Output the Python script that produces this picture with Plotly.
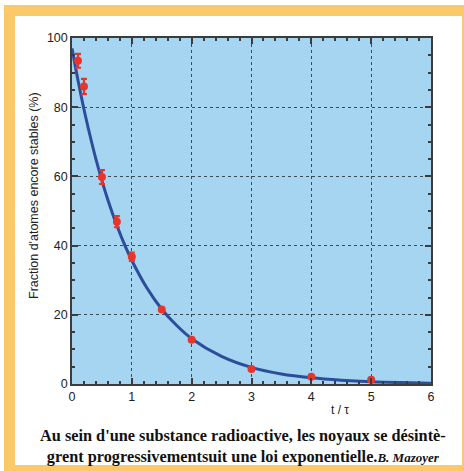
import plotly.graph_objects as go

# --- data ---
t_meas = [0.1, 0.2, 0.5, 0.75, 1.0, 1.5, 2.0, 3.0, 4.0, 5.0]
frac_meas = [93.4, 86.0, 59.8, 46.9, 36.8, 21.5, 12.8, 4.3, 2.1, 1.2]
frac_err = [2.0, 2.2, 2.0, 1.6, 1.2, 0, 0, 0, 0, 0]

t_curve = [0, 0.1, 0.2, 0.3, 0.4, 0.5, 0.6, 0.75, 0.9, 1.0, 1.25, 1.5, 1.75,
           2.0, 2.5, 3.0, 3.5, 4.0, 4.5, 5.0, 5.5, 6.0]
frac_curve = [97, 87.8, 79.4, 71.9, 65.0, 58.8, 53.2, 45.8, 39.4, 35.7, 27.8,
              21.6, 16.9, 13.1, 8.0, 4.8, 2.9, 1.8, 1.1, 0.65, 0.4, 0.24]

x_ticks = [0, 1, 2, 3, 4, 5, 6]
y_ticks = [0, 20, 40, 60, 80, 100]

caption_line1 = "Au sein d'une substance radioactive, les noyaux se désintè-"
caption_line2 = "grent progressivementsuit une loi exponentielle."
credit = "B. Mazoyer"

W, H = 464, 471
L, R, T, B = 72, 431, 38, 384  # plot area in px


def px_x(p):
    return (p - L) / (R - L)


def px_y(p):
    return 1 - (p - T) / (B - T)


fig = go.Figure()
fig.add_trace(go.Scatter(
    x=t_curve, y=frac_curve, mode="lines",
    line=dict(color="#2c4d9c", width=3, shape="spline"),
    hoverinfo="skip", showlegend=False, cliponaxis=True))
fig.add_trace(go.Scatter(
    x=t_meas, y=frac_meas, mode="markers",
    marker=dict(color="#e8352b", size=8),
    error_y=dict(type="data", array=frac_err, color="#e8352b", thickness=2.2, width=3),
    showlegend=False, cliponaxis=False))

shapes = [
    dict(type="rect", xref="paper", yref="paper", layer="below",
         x0=px_x(4), x1=px_x(464), y0=px_y(471), y1=px_y(5),
         fillcolor="#fdc867", line=dict(width=0)),
    dict(type="rect", xref="paper", yref="paper", layer="below",
         x0=px_x(15), x1=px_x(462), y0=px_y(465), y1=px_y(16),
         fillcolor="#ffffff", line=dict(width=0)),
    dict(type="rect", xref="paper", yref="paper", layer="below",
         x0=0, x1=1, y0=0, y1=1,
         fillcolor="#a5d5f1", line=dict(width=0)),
]

axis_common = dict(
    showline=True, linecolor="#3c3c3c", linewidth=1.5, mirror="ticks",
    ticks="inside", ticklen=6, tickwidth=1.5, tickcolor="#3c3c3c",
    showgrid=True, gridcolor="#3a4a55", gridwidth=1, griddash="dot",
    zeroline=False,
    tickfont=dict(family="Liberation Sans, Arial, sans-serif", size=12.5, color="#222222"),
)

fig.update_xaxes(range=[0, 6], tickvals=x_ticks, ticktext=[str(v) for v in x_ticks],
                 minor=dict(dtick=0.2, tick0=0, ticks="inside", ticklen=3,
                            tickcolor="#3c3c3c", showgrid=False),
                 **axis_common)
fig.update_yaxes(range=[0, 100], tickvals=y_ticks, ticktext=[str(v) for v in y_ticks],
                 minor=dict(dtick=5, tick0=0, ticks="inside", ticklen=3,
                            tickcolor="#3c3c3c", showgrid=False),
                 **axis_common)

serif = "Liberation Serif, Times New Roman, serif"
annotations = [
    dict(text="Fraction d'atomes encore stables (%)", textangle=-90,
         xref="paper", yref="paper", x=px_x(34), y=px_y(196),
         xanchor="center", yanchor="middle", showarrow=False,
         font=dict(family="Liberation Sans, Arial, sans-serif", size=12.5, color="#222222")),
    dict(text="t / τ", xref="paper", yref="paper", x=px_x(340), y=px_y(410),
         xanchor="center", yanchor="middle", showarrow=False,
         font=dict(family="Liberation Sans, Arial, sans-serif", size=12, color="#222222")),
    dict(text=f"<b>{caption_line1}</b><br><b>{caption_line2}</b>"
              f"<b><i><span style='font-size:13px'>{credit}</span></i></b>",
         xref="paper", yref="paper", x=px_x(242.5), y=px_y(446),
         xanchor="center", yanchor="middle", align="center", showarrow=False,
         font=dict(family=serif, size=16.3, color="#111111")),
]

fig.update_layout(
    width=W, height=H,
    margin=dict(l=L, r=W - R, t=T, b=H - B, pad=0),
    paper_bgcolor="#ffffff", plot_bgcolor="rgba(0,0,0,0)",
    shapes=shapes, annotations=annotations, showlegend=False,
)

fig.write_html("out.html")
